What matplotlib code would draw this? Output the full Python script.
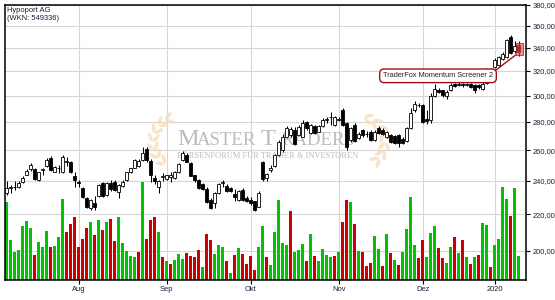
import numpy as np
import pandas as pd
import matplotlib
matplotlib.use('Agg')
import matplotlib.pyplot as plt
from matplotlib.patches import Rectangle, Ellipse
from matplotlib.ticker import FixedLocator, NullLocator, FuncFormatter
from matplotlib.transforms import Affine2D, blended_transform_factory

title = 'Hypoport AG\n(WKN: 549336)'
note = 'TraderFox Momentum Screener 2'

# Xetra trading days shown on the chart
holidays = ['2019-10-03', '2019-12-24', '2019-12-25', '2019-12-26',
            '2019-12-31', '2020-01-01']
month_names = {8: 'Aug', 9: 'Sep', 10: 'Okt', 11: 'Nov', 12: 'Dez', 1: '2020'}
price_ticks = [200, 220, 240, 260, 280, 300, 320, 340, 360, 380]

opens = [232.5, 235.5, 236.0, 236.5, 239.5, 244.0, 247.5, 247.5, 240.5, 247.0,
         249.5, 255.0, 246.0, 248.0, 245.5, 252.5, 252.5, 243.0, 239.5, 235.5,
         229.5, 223.5, 226.5, 231.0, 238.5, 231.5, 239.0, 239.5, 233.0, 237.0,
         240.5, 245.5, 248.5, 249.5, 253.5, 261.0, 253.0, 242.0, 236.0, 242.5,
         241.5, 242.5, 242.0, 245.5, 253.5, 257.0, 251.5, 243.5, 240.5, 238.0,
         235.0, 228.5, 226.5, 232.5, 239.0, 237.0, 235.5, 232.0, 228.5, 234.5,
         229.5, 228.5, 227.5, 224.5, 252.0, 242.0, 247.0, 249.5, 257.0, 260.0,
         269.5, 270.5, 274.0, 270.5, 269.5, 280.0, 272.0, 277.0, 273.0, 277.0,
         281.5, 283.5, 277.5, 281.5, 289.0, 279.0, 267.0, 277.5, 268.5, 274.0,
         271.0, 273.0, 267.0, 275.5, 274.5, 269.5, 270.5, 270.0, 270.5, 268.0,
         266.5, 275.5, 288.5, 292.5, 292.5, 282.0, 281.5, 299.5, 304.5, 304.0,
         300.0, 304.5, 309.0, 308.5, 309.0, 308.5, 309.5, 308.5, 308.5, 305.5,
         310.0, 320.0, 323.0, 325.0, 330.0, 331.5, 349.5, 337.0, 342.0]
highs = [240.0, 237.5, 240.0, 240.0, 243.0, 247.5, 251.5, 248.0, 246.0, 248.0,
         254.5, 256.0, 249.5, 250.0, 257.0, 255.5, 253.0, 245.5, 240.5, 236.0,
         230.0, 229.0, 230.5, 238.0, 239.5, 239.5, 240.5, 240.5, 238.0, 240.5,
         246.0, 248.5, 254.0, 254.0, 262.0, 262.0, 254.0, 244.0, 240.5, 245.0,
         244.0, 246.0, 246.5, 251.5, 259.5, 258.0, 252.0, 244.0, 241.5, 238.5,
         236.0, 229.5, 233.0, 238.5, 240.5, 238.0, 236.0, 235.0, 234.5, 235.5,
         230.5, 230.0, 228.0, 234.0, 253.0, 245.0, 250.0, 257.5, 267.0, 271.0,
         277.0, 276.0, 276.0, 278.0, 281.5, 281.0, 278.5, 278.0, 278.0, 283.0,
         284.0, 287.5, 284.5, 283.5, 290.0, 280.0, 276.5, 279.0, 273.0, 275.0,
         273.5, 274.0, 274.5, 277.0, 275.5, 273.5, 271.5, 270.5, 271.5, 269.0,
         276.0, 290.0, 296.0, 294.0, 293.5, 289.0, 302.0, 309.0, 306.0, 304.5,
         304.0, 310.0, 310.0, 311.0, 310.0, 310.0, 310.0, 309.0, 309.0, 311.0,
         322.5, 322.0, 331.0, 333.0, 336.0, 348.0, 351.0, 346.0, 345.5]
lows = [231.5, 232.5, 234.5, 235.5, 239.0, 243.5, 246.5, 240.5, 240.0, 243.5,
        249.0, 246.5, 245.5, 245.0, 245.0, 249.5, 245.0, 236.5, 236.5, 229.5,
        223.5, 222.5, 222.5, 230.0, 230.0, 231.0, 234.0, 233.5, 229.5, 236.0,
        240.0, 245.0, 248.0, 249.0, 253.0, 252.0, 239.5, 238.0, 232.5, 240.0,
        240.5, 239.5, 241.5, 245.0, 253.0, 252.0, 243.0, 239.5, 235.0, 234.5,
        226.5, 223.0, 223.5, 232.0, 236.0, 233.0, 233.0, 228.0, 228.0, 228.0,
        227.0, 225.5, 222.0, 224.0, 240.0, 240.0, 246.0, 249.0, 256.0, 259.0,
        268.5, 269.5, 263.5, 270.0, 269.0, 274.5, 271.0, 271.5, 272.5, 276.0,
        279.5, 277.5, 277.0, 280.5, 277.0, 260.0, 265.5, 265.5, 267.5, 269.5,
        269.5, 266.5, 266.5, 271.0, 270.5, 268.5, 265.0, 264.5, 262.5, 264.5,
        266.0, 275.0, 287.5, 291.0, 279.5, 278.5, 279.5, 298.5, 302.0, 298.5,
        297.5, 303.5, 307.0, 307.5, 307.0, 307.5, 306.0, 302.0, 305.0, 304.5,
        309.0, 316.0, 322.0, 324.0, 329.0, 330.5, 334.5, 335.0, 333.0]
closes = [235.5, 236.0, 236.5, 238.5, 242.0, 246.5, 250.0, 241.0, 245.5, 247.5,
          253.5, 247.0, 249.0, 248.5, 255.5, 253.0, 245.5, 240.5, 238.5, 230.0,
          224.0, 228.5, 224.5, 237.5, 230.5, 239.0, 235.0, 234.5, 237.5, 239.5,
          245.5, 248.0, 253.5, 253.0, 258.5, 253.5, 243.5, 240.0, 240.0, 243.0,
          243.5, 243.5, 246.0, 251.0, 258.5, 252.5, 243.0, 240.5, 235.5, 235.0,
          227.0, 223.5, 232.5, 238.0, 239.5, 233.5, 233.5, 230.0, 234.0, 228.5,
          228.0, 226.5, 222.5, 232.5, 241.5, 244.5, 248.5, 257.0, 266.0, 269.0,
          275.5, 275.0, 264.5, 276.5, 279.5, 275.5, 277.5, 272.0, 277.0, 281.5,
          282.0, 284.0, 283.5, 282.0, 277.5, 262.0, 275.5, 266.5, 271.5, 270.5,
          271.5, 267.0, 273.0, 272.0, 271.0, 272.5, 266.0, 265.0, 265.0, 265.0,
          275.5, 286.5, 293.5, 293.0, 280.0, 281.0, 299.5, 305.5, 303.0, 300.5,
          303.0, 308.5, 307.5, 309.0, 308.0, 309.0, 306.5, 304.0, 307.0, 309.5,
          320.0, 318.0, 329.5, 331.5, 334.5, 346.5, 335.5, 341.0, 336.0]
# volume (thousand shares, rough)
volume = [78, 40, 28, 30, 54, 59, 52, 25, 38, 33,
          49, 33, 34, 43, 81, 48, 56, 63, 33, 41,
          52, 58, 45, 60, 50, 58, 61, 39, 63, 37,
          29, 24, 23, 28, 98, 41, 60, 63, 48, 23,
          19, 16, 20, 26, 21, 27, 24, 23, 30, 13,
          46, 40, 26, 35, 33, 19, 7, 25, 32, 26,
          16, 24, 10, 33, 54, 23, 15, 48, 80, 37,
          35, 69, 28, 30, 36, 19, 46, 24, 19, 31,
          25, 23, 24, 28, 58, 80, 78, 56, 29, 28,
          14, 17, 44, 31, 14, 46, 27, 20, 15, 28,
          51, 83, 35, 22, 40, 23, 47, 54, 32, 22,
          17, 33, 43, 27, 40, 23, 16, 23, 25, 57,
          55, 13, 35, 41, 93, 81, 64, 92, 24]
# g = up day, r = down day (volume bar colour)
vol_dir = ('gggggggrgg' 'grgggrrrrr' 'rgrgrgrrgg' 'gggrgrrrgr' 'grgggrrrrg'
           'rrgggrgrgr' 'rrrggrgggg' 'grgggrgrgg' 'ggrgrrgrgr' 'rrggrgrgrg'
           'gggrrgggrr' 'ggrgrgrgrg' 'grggggrgg')

GREEN = '#00c400'
RED = '#cc0000'
TXT = '#1c1c3c'


def px_transform(fig):
    # pixel coords of the 555x300 picture, origin top left
    return Affine2D().scale(1 / 555, -1 / 300).translate(0, 1) + fig.transFigure


def draw_laurel(ax, tr, cx, cy, r, angles):
    for a in np.radians(angles):
        x = cx + r * np.cos(a)
        y = cy - r * np.sin(a)
        # tangent pointing towards the upper end of the branch
        tang = np.degrees(np.arctan2(-r * np.cos(a), -r * np.sin(a)))
        if np.sin(a) < 0 or np.cos(a) > 0:
            tang += 0
        for side in (-1, 1):
            ox = x + side * 3.0 * np.cos(a)
            oy = y - side * 3.0 * np.sin(a)
            ax.add_patch(Ellipse((ox, oy), 9.5, 3.8, angle=tang - side * 30,
                                 transform=tr, color='#f8dcb8', alpha=0.75,
                                 lw=0, zorder=1))


def run():
    dates = pd.bdate_range('2019-07-08', '2020-01-10')
    dates = dates[~dates.isin(pd.to_datetime(holidays))]
    idx = np.arange(len(dates))
    o = np.array(opens)
    h = np.array(highs)
    l = np.array(lows)
    c = np.array(closes)

    fig = plt.figure(figsize=(5.55, 3.0), dpi=100)
    ax = fig.add_axes([5 / 555, 20 / 300, 520.7 / 555, 275 / 300])
    tr = px_transform(fig)

    ax.set_yscale('log')
    ax.set_ylim(185.3, 380)
    ax.set_xlim(-0.43, 129.75)

    # volume in the lower part of the same axes
    vol_tr = blended_transform_factory(ax.transData,
                                       Affine2D().scale(1, 1 / 275) + ax.transAxes)
    vcols = [GREEN if d == 'g' else RED for d in vol_dir]
    ax.bar(idx, volume, width=0.75, color=vcols, transform=vol_tr, zorder=2)

    # candles
    ax.vlines(idx, l, h, color='black', lw=0.75, zorder=3)
    up = c >= o
    body_lo = np.minimum(o, c)
    body_h = np.maximum(np.abs(c - o), 0.15)
    ax.bar(idx, body_h, bottom=body_lo, width=0.72,
           color=np.where(up, 'white', 'black'), edgecolor='black',
           lw=0.6, zorder=4)

    # watermark
    wm = dict(transform=tr, family='Liberation Serif', color='#bcbcbc',
              va='baseline', ha='left', zorder=1)
    ax.text(177, 145, 'M', fontsize=17.5, **wm)
    ax.text(197, 145, 'ASTER', fontsize=13.5, **wm)
    ax.text(261, 145, 'T', fontsize=17.5, **wm)
    ax.text(281, 145, 'RADERS', fontsize=13.5, **wm)
    ax.text(177, 158.5, 'BÖRSENFORUM FÜR TRADER & INVESTOREN', fontsize=6.0, **wm)
    draw_laurel(ax, tr, 178, 142, 25, [110, 130, 150, 170, 190, 210, 230])
    draw_laurel(ax, tr, 360, 142, 25, [70, 50, 30, 10, -10, -30, -50])

    # axes styling
    ax.grid(True, color='#d6d6d6', lw=0.8)
    ax.set_axisbelow(True)
    for s in ax.spines.values():
        s.set_color('black')
        s.set_linewidth(1.1)
    ax.yaxis.tick_right()
    ax.yaxis.set_major_locator(FixedLocator(price_ticks))
    ax.yaxis.set_minor_locator(NullLocator())
    ax.yaxis.set_major_formatter(
        FuncFormatter(lambda v, p: f'{v:.2f}'.replace('.', ',')))
    month_idx = [i for i in idx[1:] if dates[i].month != dates[i - 1].month]
    ax.set_xticks(month_idx)
    ax.set_xticklabels([month_names[dates[i].month] for i in month_idx])
    ax.tick_params(axis='both', direction='out', length=3, width=0.8,
                   labelsize=5.4, labelcolor=TXT, pad=2)
    ax.tick_params(axis='x', pad=1.5)
    for lab in ax.get_xticklabels() + ax.get_yticklabels():
        lab.set_family('Liberation Sans')

    ax.text(7, 7, title, transform=tr, va='top', ha='left', fontsize=5.4,
            color=TXT, family='Liberation Sans', linespacing=1.15, zorder=6)

    # signal marker on the last candle
    last = idx[-1]
    ax.add_patch(Rectangle((last - 0.75, l[-1] + 0.5), 1.9, h[-1] - l[-1] - 1.5,
                           fc='#f05050', ec='#c00000', lw=0.8, alpha=0.65,
                           zorder=5))
    ax.annotate(note, xy=(last - 0.75, l[-1] + 0.5), xycoords='data',
                xytext=(438, 75.8), textcoords=tr, ha='center', va='center',
                fontsize=5.3, color='#222222', family='Liberation Sans',
                bbox=dict(boxstyle='round,pad=0.45,rounding_size=0.6',
                          fc='white', ec='#a01010', lw=1.0),
                arrowprops=dict(arrowstyle='-', color='#a01010', lw=1.0,
                                relpos=(1, 1), shrinkA=0, shrinkB=0),
                zorder=6)

    fig.savefig('out.png', dpi=100)


if __name__ == '__main__':
    run()
